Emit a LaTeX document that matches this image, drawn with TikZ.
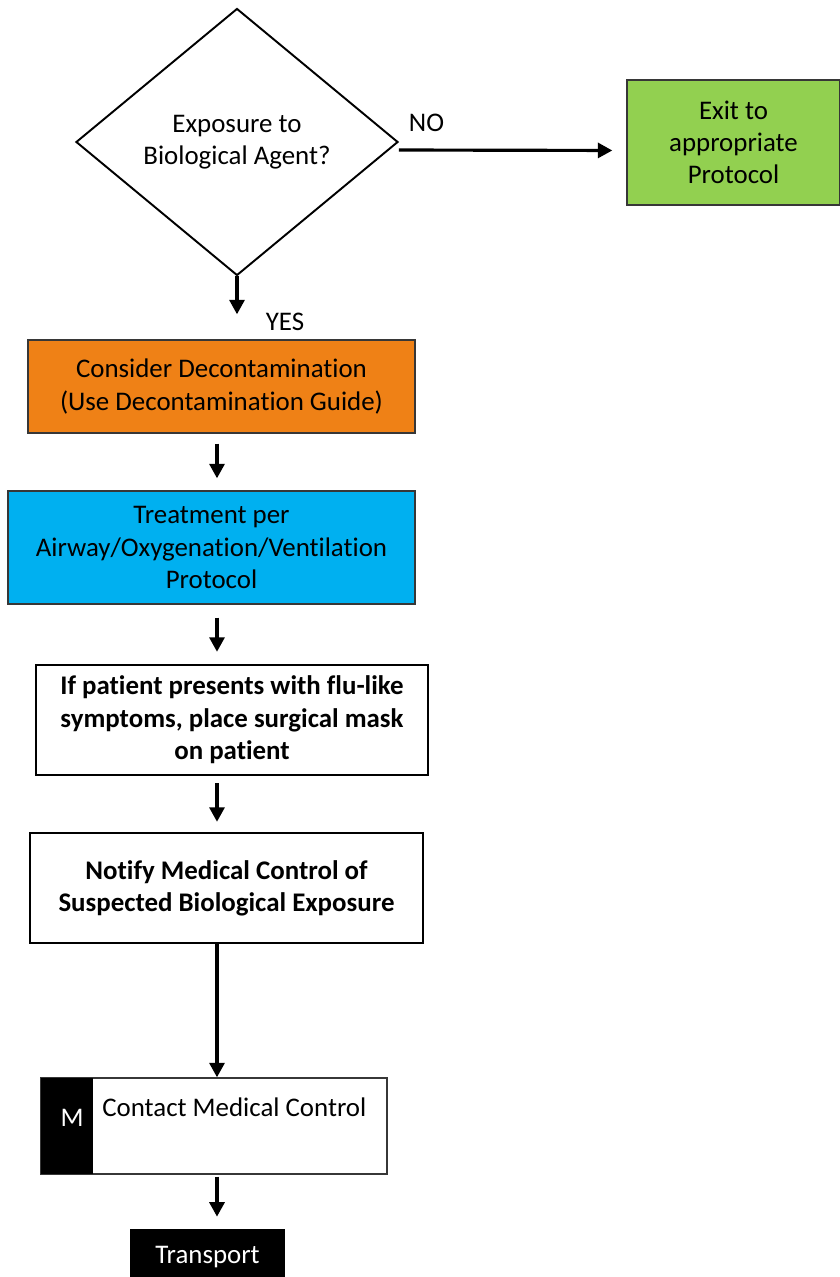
\documentclass[tikz,border=0pt]{standalone}
\usepackage{fontspec}
\setmainfont{Carlito}[Ligatures=NoCommon]
\usetikzlibrary{arrows.meta,positioning,shapes.geometric}
\definecolor{exitgreen}{RGB}{146,208,80}
\definecolor{decon}{RGB}{239,129,22}
\definecolor{airway}{RGB}{0,176,240}
\definecolor{edge}{RGB}{55,55,55}
\newcommand\chartfont{\fontsize{15.3}{18.4}\selectfont}
\tikzset{
  >={Triangle[length=2.9mm,width=3mm]},
  decision/.style={diamond,draw=black,line width=1.1pt,minimum width=6.44cm,
    minimum height=5.34cm,inner sep=0pt,align=center,font=\chartfont},
  box/.style={draw=edge,line width=0.8pt,fill=#1,align=center,font=\chartfont},
  box/.default=white,
  bold box/.style={draw=black,line width=1.4pt,fill=white,align=center,
    font=\chartfont\bfseries},
  solid box/.style={fill=black,text=white,inner sep=0pt,font=\chartfont},
  flow/.style={->,line width=1.8pt},
  tag/.style={font=\chartfont,inner sep=0pt},
}
\begin{document}
\begin{tikzpicture}
  \useasboundingbox (0,0) rectangle (16.8,-25.54);
  \coordinate (spine) at (4.34,0);
  % question
  \node[decision] (expo) at (4.74,-2.84) {Exposure to\\Biological Agent?};
  \node[box=exitgreen,minimum width=4.26cm,minimum height=2.5cm] (exit) at (14.67,-2.85) {Exit to\\appropriate\\Protocol};
  \node[tag] (no) at (8.53,-2.46) {NO};
  \node[tag] (yes) at (5.7,-6.44) {YES};
  % steps
  \node[box=decon,minimum width=7.74cm,minimum height=1.86cm] (decon) at (4.43,-7.73) {Consider Decontamination\\(Use Decontamination Guide)};
  \node[box=airway,minimum width=8.14cm,minimum height=2.26cm] (treat) at (4.23,-10.95) {Treatment per\\Airway/Oxygenation/Ventilation\\Protocol};
  \node[bold box,minimum width=7.84cm,minimum height=2.2cm] (mask) at (4.64,-14.4) {If patient presents with flu-like\\symptoms, place surgical mask\\on patient};
  \node[bold box,minimum width=7.86cm,minimum height=2.2cm] (notify) at (4.53,-17.76) {Notify Medical Control of\\Suspected Biological Exposure};
  \node[box,minimum width=6.92cm,minimum height=1.92cm] (contact) at (4.28,-22.52) {};
  \node[solid box,anchor=north west,minimum width=1.04cm,minimum height=1.92cm] (mstrip) at (contact.north west) {};
  \node[tag,text=white] (mletter) at (1.44,-22.36) {M};
  \node[tag,anchor=west] (ctext) at (2.04,-22.14) {Contact Medical Control};
  \node[solid box,minimum width=3.1cm,minimum height=1.12cm] (transport) at (4.15,-25.14) {Transport};
  % arrows
  \draw[flow,shorten >=0.28cm] ([yshift=-0.16cm]expo.east) -- ([yshift=-0.16cm]exit.west);
  \draw[flow,shorten >=0.5cm] (expo.south) -- (expo.south |- decon.north);
  \draw[flow,shorten <=0.2cm,shorten >=0.24cm] (decon.south -| spine) -- (treat.north -| spine);
  \draw[flow,shorten <=0.26cm,shorten >=0.24cm] (treat.south -| spine) -- (mask.north -| spine);
  \draw[flow,shorten <=0.14cm,shorten >=0.2cm] (mask.south -| spine) -- (notify.north -| spine);
  \draw[flow] (notify.south -| spine) -- (contact.north -| spine);
  \draw[flow,shorten <=0.04cm,shorten >=0.24cm] (contact.south -| spine) -- (transport.north -| spine);
\end{tikzpicture}
\end{document}
